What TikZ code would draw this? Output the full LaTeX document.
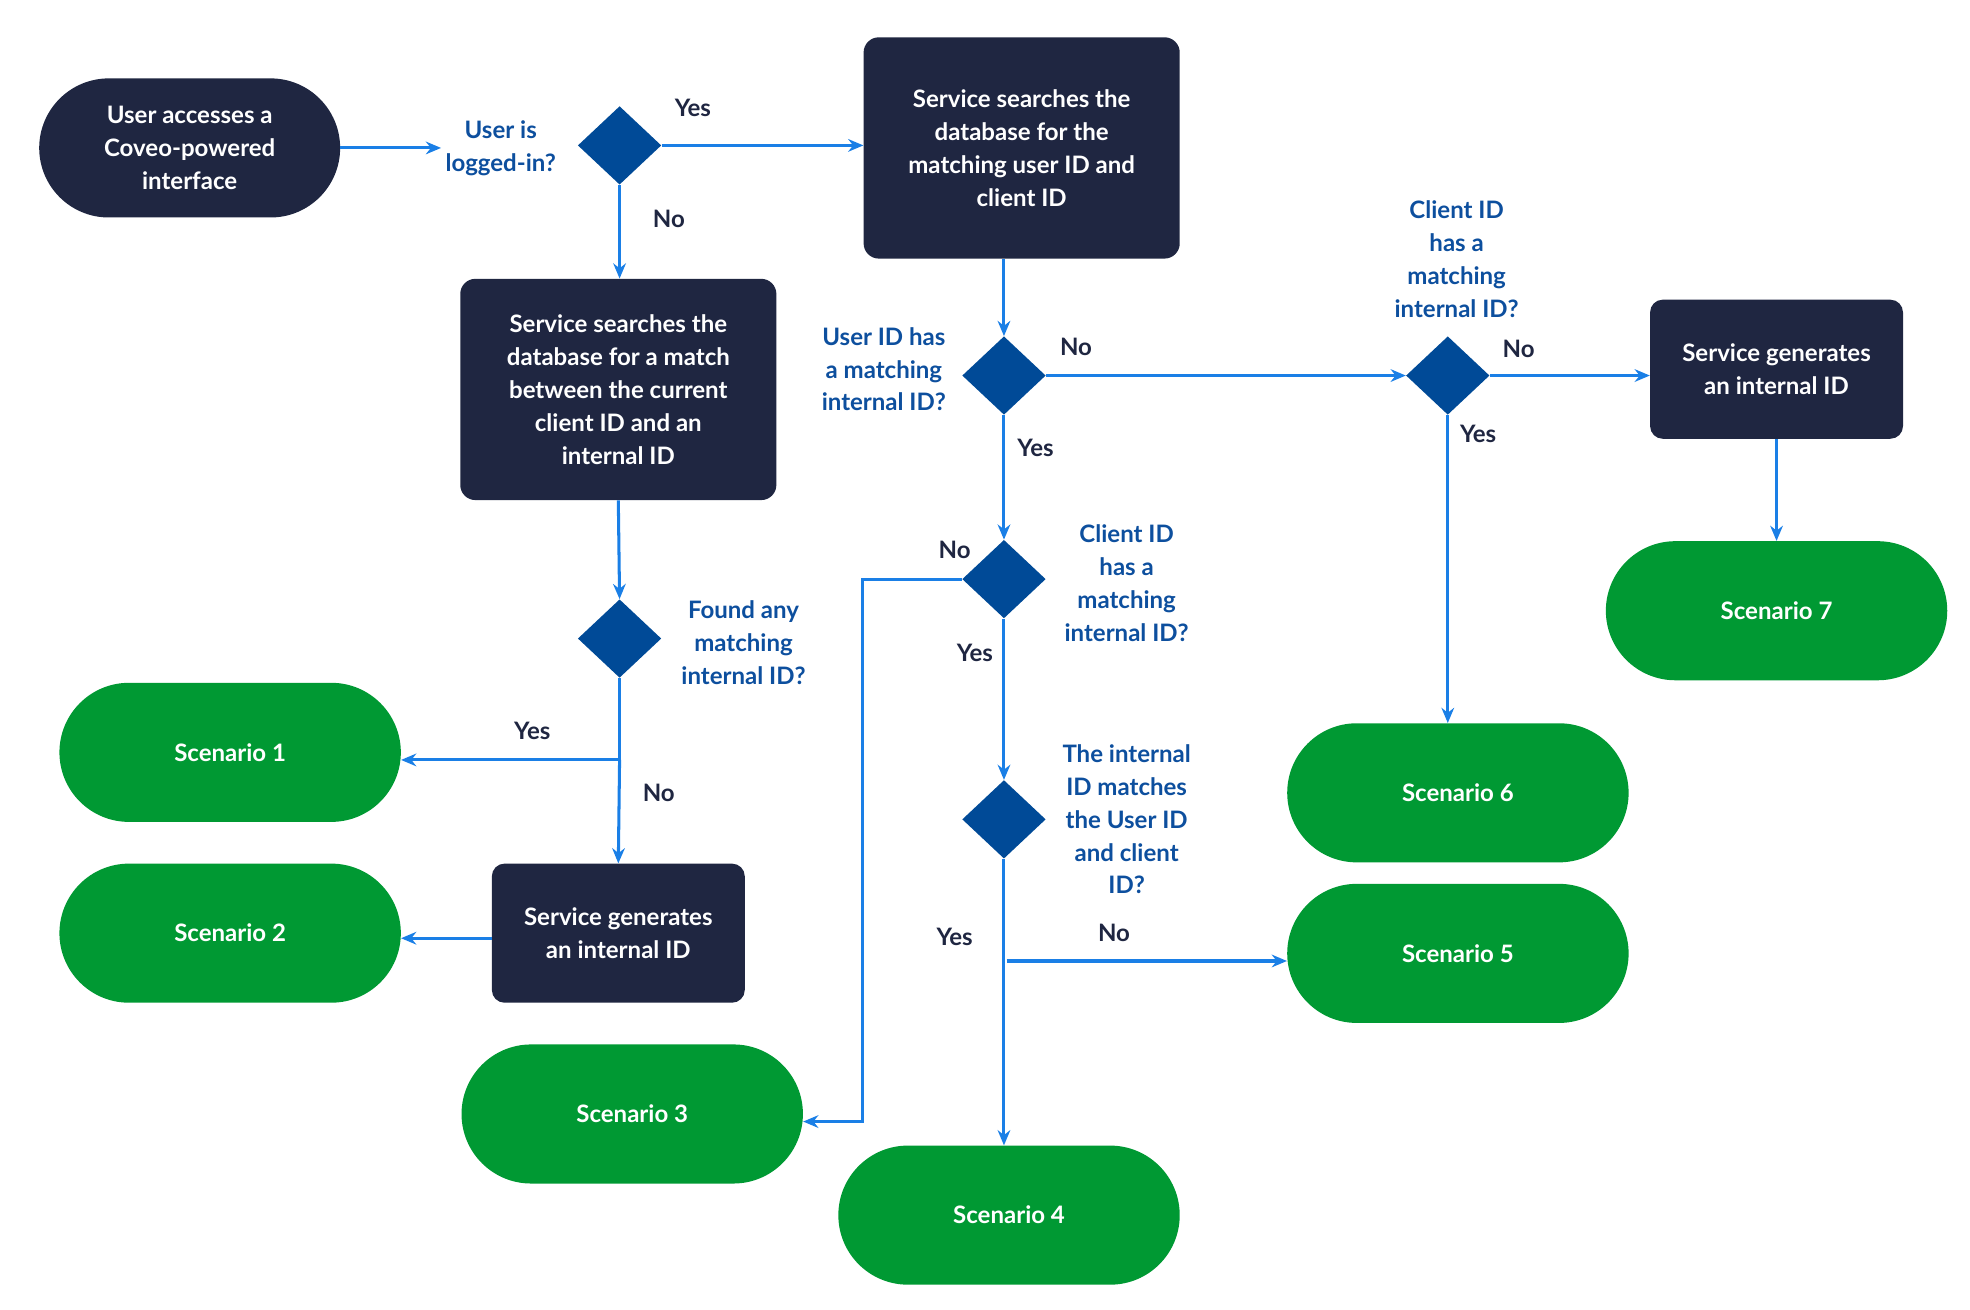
\documentclass[tikz,border=0pt]{standalone}
\usepackage{fontspec}
\setmainfont{Lato}
\usetikzlibrary{shapes.geometric,arrows.meta}
\definecolor{navy}{HTML}{1F2641}
\definecolor{grn}{HTML}{009933}
\definecolor{dia}{HTML}{004A97}
\definecolor{lbl}{HTML}{0D4F9E}
\definecolor{arr}{HTML}{1A7FE6}
\begin{document}
\begin{tikzpicture}[x=1pt,y=-1pt,
  txt/.style={font=\bfseries\fontsize{19}{26}\selectfont,align=center},
  pill/.style={txt,text=white,fill=navy,rounded corners=55pt,minimum width=238pt,minimum height=110pt,inner sep=0},
  box/.style={txt,text=white,fill=navy,rounded corners=12pt,minimum width=#1,minimum height=175pt,inner sep=0},
  gen/.style={txt,text=white,fill=navy,rounded corners=10pt,minimum width=#1,minimum height=110pt,inner sep=0},
  scen/.style={txt,text=white,fill=grn,rounded corners=55pt,minimum width=270pt,minimum height=110pt,inner sep=0},
  dec/.style={diamond,fill=dia,minimum width=66pt,minimum height=62pt,inner sep=0},
  q/.style={txt,text=lbl},
  yn/.style={txt,text=navy},
  ar/.style={draw=arr,line width=2.4pt,-{Stealth[length=12pt,width=10pt]}},
  ln/.style={draw=arr,line width=2.4pt}]
\useasboundingbox (0,0) rectangle (1558,1036);
\node[pill] (start) at (150,117) {User accesses a\\Coveo-powered\\interface};
\node[dec] (d1) at (490,115) {};
\node[q] (q1) at (396,117) {User is\\logged-in?};
\node[box=250pt] (b1) at (808,117) {Service searches the\\database for the\\matching user ID and\\client ID};
\node[box=250pt] (b2) at (489,308) {Service searches the\\database for a match\\between the current\\client ID and an\\internal ID};
\node[dec] (d2) at (490,505) {};
\node[q] (q2) at (588,508) {Found any\\matching\\internal ID?};
\node[scen] (s1) at (182,595) {Scenario 1};
\node[scen] (s2) at (182,738) {Scenario 2};
\node[gen=200pt] (g1) at (489,738) {Service generates\\an internal ID};
\node[dec] (d3) at (794,297) {};
\node[q] (q3) at (699,292) {User ID has\\a matching\\internal ID?};
\node[dec] (d4) at (1145,297) {};
\node[q] (q4) at (1152,205) {Client ID\\has a\\matching\\internal ID?};
\node[gen=200pt] (g2) at (1405,292) {Service generates\\an internal ID};
\node[scen] (s7) at (1405,483) {Scenario 7};
\node[dec] (d5) at (794,458) {};
\node[q] (q5) at (891,461) {Client ID\\has a\\matching\\internal ID?};
\node[dec] (d6) at (794,648) {};
\node[q] (q6) at (891,648) {The internal\\ID matches\\the User ID\\and client\\ID?};
\node[scen] (s6) at (1153,627) {Scenario 6};
\node[scen] (s5) at (1153,754) {Scenario 5};
\node[scen] (s3) at (500,881) {Scenario 3};
\node[scen] (s4) at (798,961) {Scenario 4};
\coordinate (j2) at (490,601);
\coordinate (k5) at (682,458);
\coordinate (k5b) at (682,887);
\coordinate (j6) at (796,760);

\path[ar] (start.east) -- (q1.west);
\path[ar] (d1.east) -- (b1.west |- d1.east);
\path[ar] (d1.south) -- (b2.north -| d1.south);
\path[ar] (b1.south -| d3.north) -- (d3.north);
\path[ar] (b2.south) -- (d2.north);
\path[ar] (d3.east) -- (d4.west);
\path[ar] (d3.south) -- (d5.north);
\path[ar] (d4.east) -- (g2.west |- d4.east);
\path[ar] (d4.south) -- (s6.north -| d4.south);
\path[ar] (g2.south) -- (s7.north);
\path[ln] (d2.south) -- (j2);
\path[ar] (j2) -- (s1.east |- j2);
\path[ar] (j2) -- (g1.north);
\path[ar] (g1.west |- 0,742) -- (s2.east |- 0,742);
\path[ar] (d5.west) -- (k5) -- (k5b) -- (s3.east |- k5b);
\path[ar] (d5.south) -- (d6.north);
\path[ar] (d6.south) -- (s4.north -| d6.south);
\path[ar] (j6) -- (s5.west |- j6);

\node[yn] at (548,85) {Yes};
\node[yn] at (529,173) {No};
\node[yn] at (851,274) {No};
\node[yn] at (819,354) {Yes};
\node[yn] at (1201,276) {No};
\node[yn] at (1169,343) {Yes};
\node[yn] at (421,578) {Yes};
\node[yn] at (521,627) {No};
\node[yn] at (755,435) {No};
\node[yn] at (771,516) {Yes};
\node[yn] at (755,741) {Yes};
\node[yn] at (881,738) {No};
\end{tikzpicture}
\end{document}
